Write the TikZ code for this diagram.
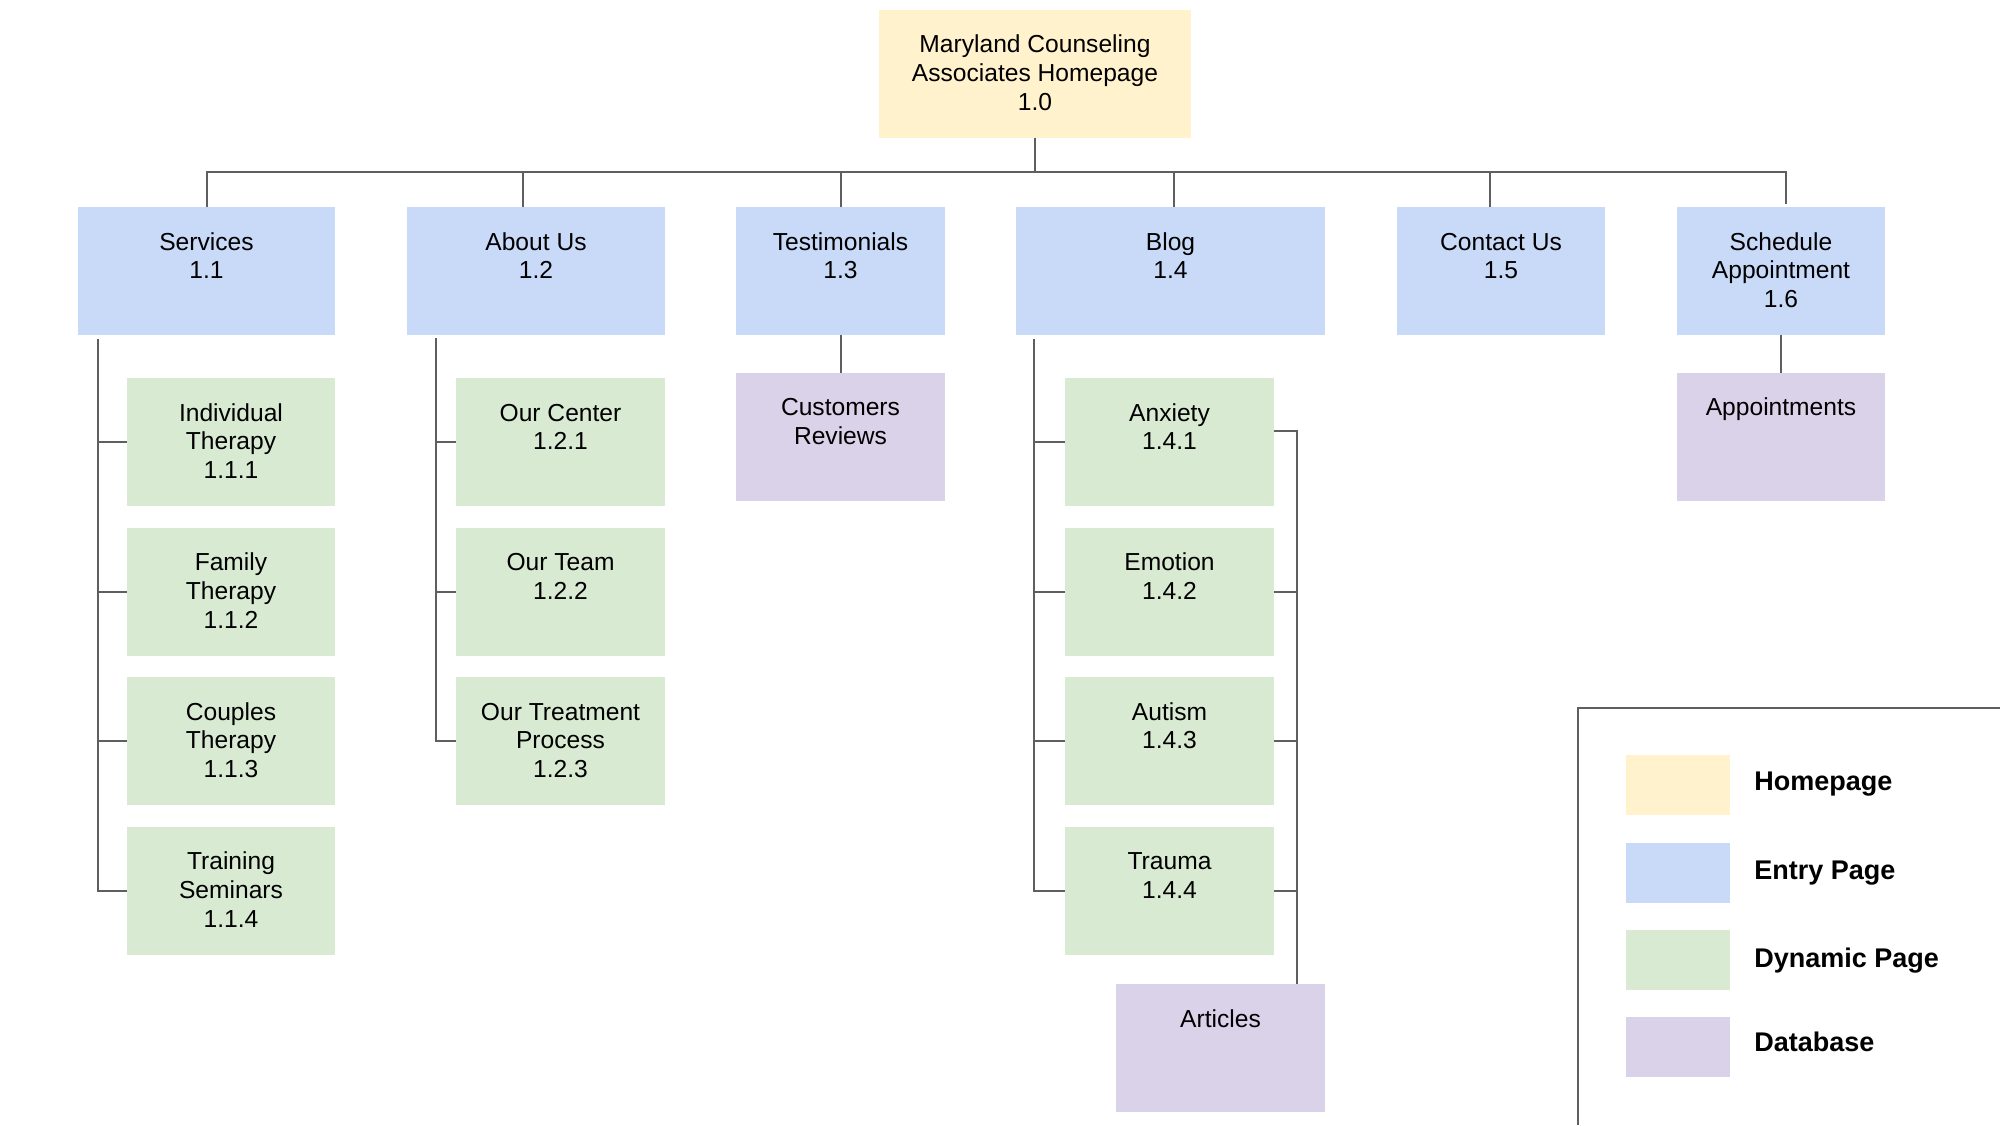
\documentclass[tikz,border=0pt]{standalone}
\usepackage{fontspec}
\setmainfont{Liberation Sans}
\definecolor{homeC}{HTML}{FFF2CC}
\definecolor{entryC}{HTML}{C9DAF8}
\definecolor{dynC}{HTML}{D9EAD3}
\definecolor{dbC}{HTML}{D9D2E9}
\definecolor{lineC}{HTML}{5F5F5F}
\newcommand{\mybox}[2]{\parbox[c][64pt][t]{#1}{\centering\rule{0pt}{21.5pt}#2}}
\begin{document}
\begin{tikzpicture}[x=0.5pt,y=-0.5pt,
  pagebox/.style={inner sep=0pt, outer sep=0pt, anchor=north west, font=\fontsize{12.3}{14.4}\selectfont},
  homebox/.style={pagebox, fill=homeC},
  entrybox/.style={pagebox, fill=entryC},
  dynbox/.style={pagebox, fill=dynC},
  dbbox/.style={pagebox, fill=dbC},
  conn/.style={draw=lineC, line width=1pt},
  legsw/.style={anchor=north west, inner sep=0pt, minimum width=52pt, minimum height=30pt},
  legtext/.style={anchor=base west, inner sep=0pt, font=\fontsize{13.5}{16}\selectfont\bfseries},
]
\useasboundingbox (0,0) rectangle (2000,1125);

% top level
\node[homebox] (home) at (879,9.5) {\mybox{156pt}{Maryland Counseling\\Associates Homepage\\1.0}};

% entry pages
\node[entrybox] (services) at (78,207) {\mybox{128.5pt}{Services\\1.1}};
\node[entrybox] (about) at (407,207) {\mybox{129pt}{About Us\\1.2}};
\node[entrybox] (testi) at (736,207) {\mybox{104.5pt}{Testimonials\\1.3}};
\node[entrybox] (blog) at (1016,207) {\mybox{154.5pt}{Blog\\1.4}};
\node[entrybox] (contact) at (1397,207) {\mybox{104pt}{Contact Us\\1.5}};
\node[entrybox] (sched) at (1677,207) {\mybox{104pt}{Schedule\\Appointment\\1.6}};

% services children
\node[dynbox] (s1) at (127,378) {\mybox{104pt}{Individual\\Therapy\\1.1.1}};
\node[dynbox] (s2) at (127,527.5) {\mybox{104pt}{Family\\Therapy\\1.1.2}};
\node[dynbox] (s3) at (127,677) {\mybox{104pt}{Couples\\Therapy\\1.1.3}};
\node[dynbox] (s4) at (127,826.5) {\mybox{104pt}{Training\\Seminars\\1.1.4}};

% about children
\node[dynbox] (a1) at (456,378) {\mybox{104.5pt}{Our Center\\1.2.1}};
\node[dynbox] (a2) at (456,527.5) {\mybox{104.5pt}{Our Team\\1.2.2}};
\node[dynbox] (a3) at (456,677) {\mybox{104.5pt}{Our Treatment\\Process\\1.2.3}};

% blog children
\node[dynbox] (b1) at (1065,378) {\mybox{104.5pt}{Anxiety\\1.4.1}};
\node[dynbox] (b2) at (1065,527.5) {\mybox{104.5pt}{Emotion\\1.4.2}};
\node[dynbox] (b3) at (1065,677) {\mybox{104.5pt}{Autism\\1.4.3}};
\node[dynbox] (b4) at (1065,826.5) {\mybox{104.5pt}{Trauma\\1.4.4}};

% databases
\node[dbbox] (cust) at (736,372.5) {\mybox{104.5pt}{Customers\\Reviews}};
\node[dbbox] (appt) at (1677,372.5) {\mybox{104pt}{Appointments}};
\node[dbbox] (articles) at (1116,984) {\mybox{104.5pt}{Articles}};

% bus connectors
\coordinate (bus) at (0,172);
\draw[conn] (home.south) -- (home.south |- bus);
\draw[conn] (services.north) -- (services.north |- bus) -- ([xshift=2.5pt]sched.north |- bus) -- ([xshift=2.5pt,yshift=1.5pt]sched.north);
\draw[conn] ([xshift=-6.5pt]about.north) -- ([xshift=-6.5pt]about.north |- bus);
\draw[conn] (testi.north) -- (testi.north |- bus);
\draw[conn] ([xshift=1.5pt]blog.north) -- ([xshift=1.5pt]blog.north |- bus);
\draw[conn] ([xshift=-5.5pt]contact.north) -- ([xshift=-5.5pt]contact.north |- bus);

% services branch
\coordinate (sv) at (98,339);
\draw[conn] (sv) |- (s4.west);
\foreach \c in {s1,s2,s3} \draw[conn] (\c.west) -- (\c.west -| sv);

% about branch
\coordinate (av) at (436,338);
\draw[conn] (av) |- (a3.west);
\foreach \c in {a1,a2} \draw[conn] (\c.west) -- (\c.west -| av);

% blog branch
\coordinate (bv) at (1034,339);
\draw[conn] (bv) |- (b4.west);
\foreach \c in {b1,b2,b3} \draw[conn] (\c.west) -- (\c.west -| bv);

% blog to articles
\coordinate (rv) at ([xshift=-14pt]articles.north east);
\draw[conn] ([yshift=5.5pt]b1.east) -| (rv);
\foreach \c in {b2,b3,b4} \draw[conn] (\c.east) -- (\c.east -| rv);

% database links
\draw[conn] (testi.south) -- (cust.north);
\draw[conn] (sched.south) -- (appt.north);

% legend
\draw[conn] (1578,1125) -- (1578,708) -- (2000,708);
\node[legsw, fill=homeC] (lg1) at (1626,755) {};
\node[legsw, fill=entryC] (lg2) at (1626,843) {};
\node[legsw, fill=dynC] (lg3) at (1626,930) {};
\node[legsw, fill=dbC] (lg4) at (1626,1017) {};
\node[legtext] (lt1) at (1754,790) {Homepage};
\node[legtext] (lt2) at (1754,879) {Entry Page};
\node[legtext] (lt3) at (1754,967) {Dynamic Page};
\node[legtext] (lt4) at (1754,1051) {Database};
\end{tikzpicture}
\end{document}
